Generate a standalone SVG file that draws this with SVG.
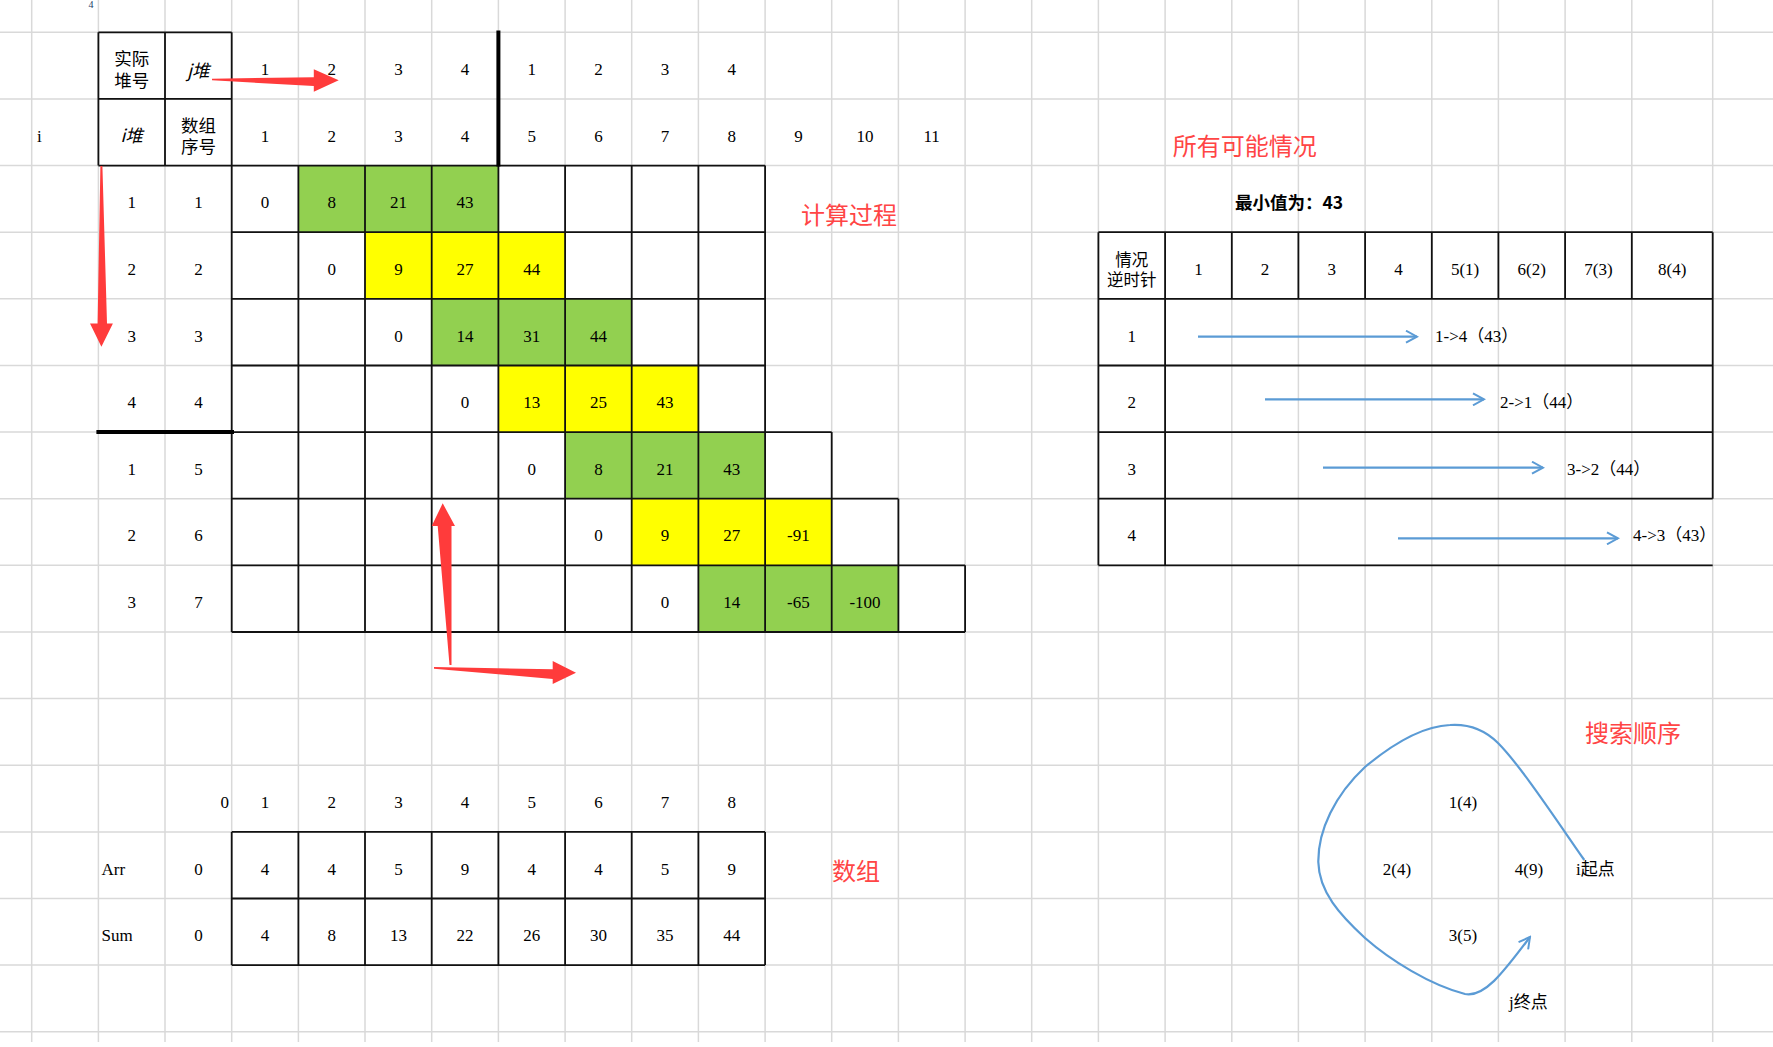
<svg xmlns="http://www.w3.org/2000/svg" width="1773" height="1047" viewBox="0 0 1773 1047">
<defs>
<style>
.grid{fill:none;stroke:#d9d9d9;stroke-width:1.5}
.bd{fill:none;stroke:#111;stroke-width:1.8}
.thick{fill:none;stroke:#000;stroke-width:4}
.g{fill:#92d050}
.y{fill:#ffff00}
.n{font-family:"Liberation Serif","Noto Sans CJK SC",serif;font-size:17px;text-anchor:middle;fill:#000}
.l{font-family:"Liberation Serif","Noto Sans CJK SC",serif;font-size:17px;fill:#000}
.cj{font-family:"Noto Sans CJK SC",sans-serif;font-size:17.5px;text-anchor:middle;fill:#000}
.cjs{font-family:"Noto Sans CJK SC",sans-serif;font-size:17.5px;fill:#000;font-weight:600}
.red{font-family:"Noto Sans CJK SC",sans-serif;font-size:24px;fill:#ff4545}
.ra{fill:#ff3b3b}
.bl{fill:none;stroke:#5b9bd5;stroke-width:2.2}
</style>
<marker id="ah" markerWidth="14" markerHeight="14" refX="12" refY="7" orient="auto" markerUnits="userSpaceOnUse">
<path d="M1,1 L12,7 L1,13" fill="none" stroke="#5b9bd5" stroke-width="2"/>
</marker>
</defs>
<rect width="1773" height="1047" fill="#fff"/>
<g id="gridlines">
<path class="grid" d="M31.7 0V1042M98.4 0V1042M165 0V1042M231.7 0V1042M298.4 0V1042M365 0V1042M431.7 0V1042M498.4 0V1042M565.1 0V1042M631.7 0V1042M698.4 0V1042M765.1 0V1042M831.7 0V1042M898.4 0V1042M965.1 0V1042M1031.7 0V1042M1098.4 0V1042M1165.1 0V1042M1231.8 0V1042M1298.4 0V1042M1365.1 0V1042M1431.8 0V1042M1498.4 0V1042M1565.1 0V1042M1631.8 0V1042M1712.7 0V1042M0 32.3H1773M0 98.9H1773M0 165.6H1773M0 232.2H1773M0 298.8H1773M0 365.5H1773M0 432.1H1773M0 498.7H1773M0 565.3H1773M0 632H1773M0 698.6H1773M0 765.2H1773M0 831.9H1773M0 898.5H1773M0 965.1H1773M0 1031.8H1773"/>
</g>
<text class="n" x="91" y="8" style="font-size:10px;fill:#203864">4</text>
<g id="calc-table">
<rect class="g" x="298.4" y="165.6" width="200" height="66.6"/>
<rect class="y" x="365" y="232.2" width="200.1" height="66.6"/>
<rect class="g" x="431.7" y="298.8" width="200" height="66.7"/>
<rect class="y" x="498.4" y="365.5" width="200" height="66.6"/>
<rect class="g" x="565.1" y="432.1" width="200" height="66.6"/>
<rect class="y" x="631.7" y="498.7" width="200" height="66.6"/>
<rect class="g" x="698.4" y="565.3" width="200" height="66.7"/>
<path class="bd" d="M98.4 32.3H231.7M98.4 98.9H231.7M98.4 165.6H765.1M98.4 32.3V165.6M165 32.3V165.6M231.7 32.3V632M231.7 232.2H765.1M231.7 298.8H765.1M231.7 365.5H765.1M231.7 432.1H831.7M231.7 498.7H898.4M231.7 565.3H965.1M231.7 632H965.1M298.4 165.6V632M365 165.6V632M431.7 165.6V632M498.4 165.6V632M565.1 165.6V632M631.7 165.6V632M698.4 165.6V632M765.1 165.6V632M831.7 432.1V632M898.4 498.7V632M965.1 565.3V632"/>
<path class="thick" d="M498.4 30.5V166.5M96.4 432.1H234"/>
<text class="cj" x="131.7" y="65">实际</text>
<text class="cj" x="131.7" y="86.7">堆号</text>
<text class="cj" x="198.4" y="76.5" font-style="italic">j堆</text>
<text class="cj" x="131.7" y="141.5" font-style="italic">i堆</text>
<text class="cj" x="198.4" y="131.7">数组</text>
<text class="cj" x="198.4" y="153.4">序号</text>
<text class="l" x="37" y="141.7">i</text>
<g class="n">
<text x="265.05" y="75">1</text><text x="331.7" y="75">2</text><text x="398.4" y="75">3</text><text x="465.05" y="75">4</text>
<text x="531.7" y="75">1</text><text x="598.4" y="75">2</text><text x="665.05" y="75">3</text><text x="731.7" y="75">4</text>
<text x="265.05" y="141.7">1</text><text x="331.7" y="141.7">2</text><text x="398.4" y="141.7">3</text><text x="465.05" y="141.7">4</text>
<text x="531.7" y="141.7">5</text><text x="598.4" y="141.7">6</text><text x="665.05" y="141.7">7</text><text x="731.7" y="141.7">8</text>
<text x="798.4" y="141.7">9</text><text x="865.05" y="141.7">10</text><text x="931.7" y="141.7">11</text>
<text x="131.7" y="208.3">1</text><text x="198.4" y="208.3">1</text><text x="265.05" y="208.3">0</text><text x="331.7" y="208.3">8</text><text x="398.4" y="208.3">21</text><text x="465.05" y="208.3">43</text>
<text x="131.7" y="274.9">2</text><text x="198.4" y="274.9">2</text><text x="331.7" y="274.9">0</text><text x="398.4" y="274.9">9</text><text x="465.05" y="274.9">27</text><text x="531.7" y="274.9">44</text>
<text x="131.7" y="341.6">3</text><text x="198.4" y="341.6">3</text><text x="398.4" y="341.6">0</text><text x="465.05" y="341.6">14</text><text x="531.7" y="341.6">31</text><text x="598.4" y="341.6">44</text>
<text x="131.7" y="408.2">4</text><text x="198.4" y="408.2">4</text><text x="465.05" y="408.2">0</text><text x="531.7" y="408.2">13</text><text x="598.4" y="408.2">25</text><text x="665.05" y="408.2">43</text>
<text x="131.7" y="474.8">1</text><text x="198.4" y="474.8">5</text><text x="531.7" y="474.8">0</text><text x="598.4" y="474.8">8</text><text x="665.05" y="474.8">21</text><text x="731.7" y="474.8">43</text>
<text x="131.7" y="541.4">2</text><text x="198.4" y="541.4">6</text><text x="598.4" y="541.4">0</text><text x="665.05" y="541.4">9</text><text x="731.7" y="541.4">27</text><text x="798.4" y="541.4">-91</text>
<text x="131.7" y="608.1">3</text><text x="198.4" y="608.1">7</text><text x="665.05" y="608.1">0</text><text x="731.7" y="608.1">14</text><text x="798.4" y="608.1">-65</text><text x="865.05" y="608.1">-100</text>
</g>
<text class="red" x="801" y="223.8">计算过程</text>
</g>
<g id="array-table">
<path class="bd" d="M231.7 831.9H765.1M231.7 898.5H765.1M231.7 965.1H765.1M231.7 831.9V965.1M298.4 831.9V965.1M365 831.9V965.1M431.7 831.9V965.1M498.4 831.9V965.1M565.1 831.9V965.1M631.7 831.9V965.1M698.4 831.9V965.1M765.1 831.9V965.1"/>
<g class="n">
<text x="229" y="808" text-anchor="end">0</text>
<text x="265.05" y="808">1</text><text x="331.7" y="808">2</text><text x="398.4" y="808">3</text><text x="465.05" y="808">4</text><text x="531.7" y="808">5</text><text x="598.4" y="808">6</text><text x="665.05" y="808">7</text><text x="731.7" y="808">8</text>
<text x="198.4" y="874.6">0</text>
<text x="265.05" y="874.6">4</text><text x="331.7" y="874.6">4</text><text x="398.4" y="874.6">5</text><text x="465.05" y="874.6">9</text><text x="531.7" y="874.6">4</text><text x="598.4" y="874.6">4</text><text x="665.05" y="874.6">5</text><text x="731.7" y="874.6">9</text>
<text x="198.4" y="941.2">0</text>
<text x="265.05" y="941.2">4</text><text x="331.7" y="941.2">8</text><text x="398.4" y="941.2">13</text><text x="465.05" y="941.2">22</text><text x="531.7" y="941.2">26</text><text x="598.4" y="941.2">30</text><text x="665.05" y="941.2">35</text><text x="731.7" y="941.2">44</text>
</g>
<text class="l" x="101.5" y="874.6">Arr</text>
<text class="l" x="101.5" y="941.2">Sum</text>
<text class="red" x="832" y="880">数组</text>
</g>
<g id="cases-table">
<text class="red" x="1172.7" y="155.3">所有可能情况</text>
<text class="cjs" x="1235" y="208.5">最小值为：43</text>
<path class="bd" d="M1098.4 232.2H1712.7M1098.4 298.8H1712.7M1098.4 365.5H1712.7M1098.4 432.1H1712.7M1098.4 498.7H1712.7M1098.4 565.3H1712.7M1098.4 232.2V565.3M1165.1 232.2V565.3M1231.8 232.2V298.8M1298.4 232.2V298.8M1365.1 232.2V298.8M1431.8 232.2V298.8M1498.4 232.2V298.8M1565.1 232.2V298.8M1631.8 232.2V298.8M1712.7 232.2V498.7"/>
<text class="cj" x="1131.75" y="265.5" style="font-size:16.5px">情况</text>
<text class="cj" x="1131.75" y="286" style="font-size:16.5px">逆时针</text>
<g class="n">
<text x="1198.4" y="274.9">1</text><text x="1265.1" y="274.9">2</text><text x="1331.75" y="274.9">3</text><text x="1398.4" y="274.9">4</text>
<text x="1465.1" y="274.9">5(1)</text><text x="1531.75" y="274.9">6(2)</text><text x="1598.45" y="274.9">7(3)</text><text x="1672.25" y="274.9">8(4)</text>
<text x="1131.75" y="341.6">1</text><text x="1131.75" y="408.2">2</text><text x="1131.75" y="474.8">3</text><text x="1131.75" y="541.4">4</text>
</g>
<text class="l" x="1435" y="342">1-&gt;4（43）</text>
<text class="l" x="1500" y="408.2">2-&gt;1（44）</text>
<text class="l" x="1567" y="474.8">3-&gt;2（44）</text>
<text class="l" x="1633" y="541.4">4-&gt;3（43）</text>
</g>
<g id="search-order">
<text class="red" x="1585" y="741.8">搜索顺序</text>
<g class="n">
<text x="1463" y="808">1(4)</text>
<text x="1397" y="874.6">2(4)</text>
<text x="1529" y="874.6">4(9)</text>
<text x="1463" y="941.2">3(5)</text>
</g>
<text class="l" x="1576" y="874.6">i起点</text>
<text class="l" x="1509" y="1008">j终点</text>
</g>
<g id="connectors">
<polygon class="ra" points="212,78.7 313.8,77.3 313.8,69.3 338.7,80.3 313.8,91.7 313.8,86 212,80.3"/>
<polygon class="ra" points="100.4,166 102.4,166 107,323.5 112.9,323.5 101.4,346.7 90,323.5 97.6,323.5"/>
<polygon class="ra" points="442.7,503.3 455,526 451.5,526 451.5,665 449.5,665 437.7,526 431.7,526"/>
<polygon class="ra" points="434,667 552.7,669.3 552.7,661 576,672.7 552.7,684 552.7,679 434,668.7"/>
<line class="bl" x1="1198" y1="336.7" x2="1417" y2="336.7" marker-end="url(#ah)"/>
<line class="bl" x1="1265" y1="399.3" x2="1484" y2="399.3" marker-end="url(#ah)"/>
<line class="bl" x1="1323" y1="467.7" x2="1543" y2="467.7" marker-end="url(#ah)"/>
<line class="bl" x1="1398" y1="538.3" x2="1618" y2="538.3" marker-end="url(#ah)"/>
<path class="bl" d="M1584.3,860 C1555,818 1520,765 1498,743 C1482,727 1465,724 1450,725 C1425,726 1395,742 1365,767 C1335,795 1318,830 1318.3,862 C1319,892 1340,915 1365,938 C1390,960 1430,985 1465,994 C1485,998 1505,970 1530,937" marker-end="url(#ah)"/>
</g>
</svg>
